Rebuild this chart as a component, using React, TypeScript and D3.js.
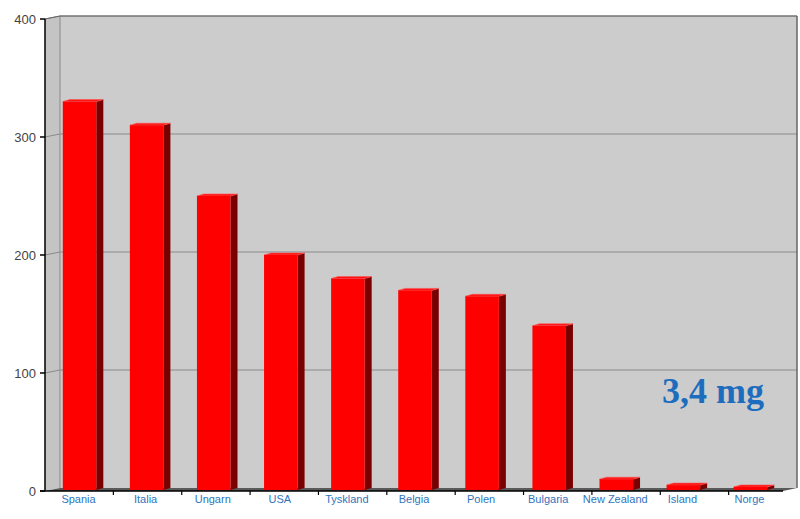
import React from "react";
import * as d3 from "d3";

const categories = ["Spania", "Italia", "Ungarn", "USA", "Tyskland", "Belgia", "Polen", "Bulgaria", "New Zealand", "Island", "Norge"];
const values = [330, 310, 250, 200, 180, 170, 165, 140, 10, 5, 3.4];
const yTicks = [0, 100, 200, 300, 400];
const annotation = "3,4 mg";

const W = 800;
const H = 519;
const X0 = 45;
const X1 = 783;
const XT = 797;
const Y0 = 491;
const Y1 = 19;
const DX = 15;
const DY = -3;
const BDX = 7;
const BDY = -2;

export default function App() {
  const y = d3.scaleLinear().domain([0, 400]).range([Y0, Y1]);
  const x = d3.scaleBand<string>().domain(categories).range([X0, X1]).paddingInner(0.5).paddingOuter(0.25);
  const xl = d3.scaleBand<string>().domain(categories).range([X0, X1]);
  const tickX = d3.scaleLinear().domain([0, categories.length]).range([X0, XT]);
  const bw = x.bandwidth();

  return (
    <svg width={W} height={H} style={{ position: "absolute", left: 0, top: 0 }} fontFamily="Liberation Sans, Arial, sans-serif">
      <rect width={W} height={H} fill="#fff" />
      {/* back wall */}
      <rect x={X0 + DX} y={Y1 + DY} width={XT - X0 - DX} height={Y0 - Y1} fill="#cccccc" />
      {/* left wall */}
      <polygon points={`${X0},${Y1} ${X0 + DX},${Y1 + DY} ${X0 + DX},${Y0 + DY} ${X0},${Y0}`} fill="#c4c4c4" />
      {/* gridlines */}
      {yTicks.filter((t) => t > 0).map((t) => (
        <g key={t}>
          <line x1={X0 + DX} x2={XT} y1={y(t) + DY} y2={y(t) + DY} stroke="#8a8a8a" strokeWidth={1} />
          <line x1={X0} x2={X0 + DX} y1={y(t)} y2={y(t) + DY} stroke="#8a8a8a" strokeWidth={1} />
        </g>
      ))}
      {/* wall borders */}
      <line x1={X0 + DX} x2={X0 + DX} y1={Y1 + DY} y2={Y0 + DY} stroke="#8a8a8a" />
      <line x1={X0} x2={X0 + DX} y1={Y1} y2={Y1 + DY} stroke="#666" />
      <line x1={X0 + DX} x2={XT} y1={Y1 + DY} y2={Y1 + DY} stroke="#666" />
      <line x1={XT} x2={XT} y1={Y1 + DY} y2={Y0 + DY} stroke="#666" strokeWidth={1.5} />
      {/* floor */}
      <polygon points={`${X0},${Y0} ${X1},${Y0} ${XT},${Y0 + DY} ${X0 + DX},${Y0 + DY}`} fill="#5a5a5a" />
      {/* bars */}
      {categories.map((c, i) => {
        const bx = (x(c) as number) + 1;
        const by = y(values[i]);
        const bb = Y0 - 1;
        return (
          <g key={c}>
            <polygon points={`${bx + bw},${by} ${bx + bw + BDX},${by + BDY} ${bx + bw + BDX},${bb + BDY} ${bx + bw},${bb}`} fill="#7a0000" />
            <polygon points={`${bx},${by} ${bx + BDX},${by + BDY} ${bx + bw + BDX},${by + BDY} ${bx + bw},${by}`} fill="#ff1010" stroke="#ff5050" strokeWidth={0.6} />
            <rect x={bx} y={by} width={bw} height={bb - by} fill="#ff0000" />
          </g>
        );
      })}
      {/* y axis */}
      <line x1={X0} x2={X0} y1={Y1} y2={Y0} stroke="#000" strokeWidth={1.5} />
      {yTicks.map((t) => (
        <g key={t}>
          <line x1={X0 - 5} x2={X0} y1={y(t)} y2={y(t)} stroke="#000" strokeWidth={1.5} />
          <text x={X0 - 9} y={y(t)} dy="0.35em" textAnchor="end" fontSize={13} fill="#444">{t}</text>
        </g>
      ))}
      {/* x axis */}
      <line x1={X0 - 5} x2={X1} y1={Y0} y2={Y0} stroke="#000" strokeWidth={1.5} />
      {d3.range(1, categories.length).map((i) => (
        <line key={i} x1={tickX(i)} x2={tickX(i)} y1={Y0} y2={Y0 + 4} stroke="#000" strokeWidth={1.2} />
      ))}
      {categories.map((c) => (
        <text key={c} x={(xl(c) as number) + xl.bandwidth() / 2} y={503} textAnchor="middle" fontSize={11} fill="#2f74bd">{c}</text>
      ))}
      <text x={662} y={403} fontFamily="Liberation Serif, Times New Roman, serif" fontWeight="bold" fontSize={36} fill="#1d6dbf">{annotation}</text>
    </svg>
  );
}
